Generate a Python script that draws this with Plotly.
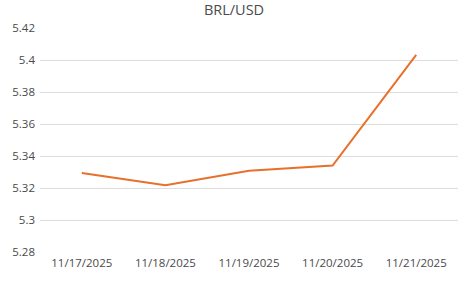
import plotly.graph_objects as go

dates = ["11/17/2025", "11/18/2025", "11/19/2025", "11/20/2025", "11/21/2025"]
rates = [5.3294, 5.3217, 5.3308, 5.3340, 5.4032]
y_ticks = [5.28, 5.3, 5.32, 5.34, 5.36, 5.38, 5.4, 5.42]
y_tick_labels = ["5.28", "5.3", "5.32", "5.34", "5.36", "5.38", "5.4", "5.42"]

fig = go.Figure(go.Scatter(
    x=dates, y=rates, mode="lines",
    line=dict(color="#E8702A", width=2),
))

fig.update_layout(
    width=468, height=281,
    margin=dict(l=40, r=10, t=28, b=29),
    paper_bgcolor="white", plot_bgcolor="white",
    font=dict(family="Open Sans", size=11.5, color="#4a4a4a"),
    title=dict(text="BRL/USD", x=0.5, xanchor="center", y=0.965, yanchor="middle",
               font=dict(size=14.5, color="#4a4a4a")),
    showlegend=False,
    xaxis=dict(type="category", range=[-0.5, 4.5], showgrid=False, showline=False,
               ticks="", zeroline=False, ticklabelstandoff=2),
    yaxis=dict(range=[5.28, 5.42], tickvals=y_ticks, ticktext=y_tick_labels,
               showgrid=True, gridcolor="#dddddd", gridwidth=1, zeroline=False,
               showline=False, ticks="", ticklabelstandoff=4),
)

fig.write_html("out.html")
